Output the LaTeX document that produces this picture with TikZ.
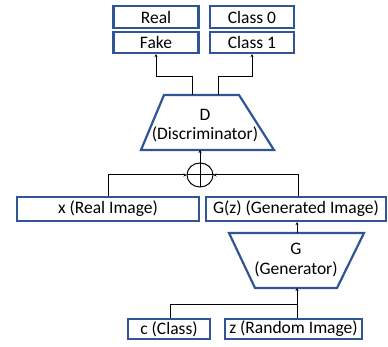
\documentclass[tikz,border=0pt]{standalone}
\usepackage{fontspec}
\setmainfont{Carlito}
\usetikzlibrary{arrows.meta,shapes.geometric}
\definecolor{bblue}{RGB}{47,85,151}
\tikzset{
  box/.style={draw=bblue, line width=2.2pt, fill=white, inner sep=0pt, font=\fontsize{17.5}{19}\selectfont},
  conn/.style={draw=black, line width=1pt},
  arr/.style={conn, -{Stealth[length=3pt,width=3pt]}},
  trap/.style={draw=bblue, line width=2.2pt, line join=miter},
  lbl/.style={font=\fontsize{17.5}{19}\selectfont, inner sep=0pt}
}
\begin{document}
\begin{tikzpicture}[x=1pt,y=-1pt]
\useasboundingbox (0,0) rectangle (388,347);
% top boxes
\node[box, minimum width=85pt, minimum height=22pt] (real) at (156,17) {Real};
\node[box, minimum width=85pt, minimum height=21pt] (fake) at (156,42.5) {Fake};
\node[box, minimum width=84pt, minimum height=22pt] (c0) at (252,17) {Class 0};
\node[box, minimum width=84pt, minimum height=21pt] (c1) at (252,42.5) {Class 1};
% discriminator
\draw[trap] (164,95) -- (239,95) -- (274,150) -- (141,150) -- cycle;
\node[lbl] (dD) at (205,115) {D};
\node[lbl] (dtxt) at (205,134) {(Discriminator)};
\coordinate (dtl) at (192,95);
\coordinate (dtr) at (218,95);
\coordinate (dbot) at (200,150);
% outputs
\draw[arr] (dtl) -- (192,77) -| (fake.south);
\draw[arr] (dtr) -- (218,77) -| (c1.south);
% circle
\node[draw, line width=1pt, ellipse, minimum width=26pt, minimum height=24pt, inner sep=0pt] (sum) at (200,175) {};
\draw[conn] (sum.north) -- (sum.south);
\draw[conn] (sum.west) -- (sum.east);
\draw[arr] (sum.north) -- (dbot);
% middle boxes
\node[box, minimum width=182pt, minimum height=24pt] (x) at (108,209) {x (Real Image)};
\node[box, minimum width=180pt, minimum height=24pt] (gz) at (296,209) {G(z) (Generated Image)};
\coordinate (xl) at (108,0);
\coordinate (gl) at (298,0);
\draw[arr] (x.north -| xl) |- (sum.west);
\draw[arr] (gz.north -| gl) |- (sum.east);
% generator
\draw[trap] (229,233) -- (364,233) -- (337,288) -- (255,288) -- cycle;
\node[lbl] (gG) at (296,249) {G};
\node[lbl] (gtxt) at (296,269) {(Generator)};
\coordinate (gtop) at (297,233);
\coordinate (gbot) at (297,288);
\coordinate (gmid) at (297,304);
\coordinate (cl) at (170,0);
\draw[arr] (gtop) -- (gz.south -| gtop);
% bottom boxes
\node[box, minimum width=82pt, minimum height=20pt] (c) at (169,329) {c (Class)};
\node[box, minimum width=137pt, minimum height=20pt] (z) at (293.5,329) {z (Random Image)};
\draw[arr] (z.north -| gbot) -- (gbot);
\draw[conn] (c.north -| cl) |- (gmid);
\end{tikzpicture}
\end{document}
